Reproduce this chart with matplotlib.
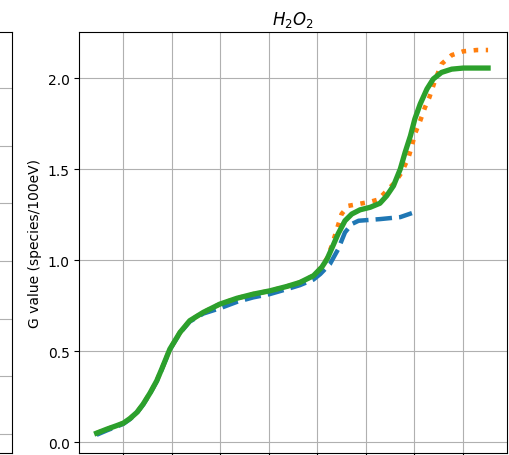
import numpy as np
import matplotlib
matplotlib.use('Agg')
import matplotlib.pyplot as plt

# (x in tick units, y in species/100eV)
x_green = [-0.55, -0.34, -0.14, 0.0, 0.14, 0.28, 0.41, 0.55, 0.69, 0.79, 0.96, 1.17,
           1.37, 1.65, 1.99, 2.34, 2.68, 3.02, 3.37, 3.64, 3.92, 4.09, 4.20, 4.30, 4.43,
           4.57, 4.71, 4.88, 5.09, 5.29, 5.43, 5.57, 5.71, 5.81, 5.92, 6.01, 6.12, 6.26,
           6.39, 6.56, 6.77, 7.01, 7.52]
y_green = [0.049, 0.071, 0.090, 0.104, 0.130, 0.163, 0.209, 0.269, 0.337, 0.400, 0.511,
           0.603, 0.667, 0.713, 0.758, 0.790, 0.813, 0.831, 0.855, 0.877, 0.914, 0.960,
           1.005, 1.065, 1.145, 1.216, 1.253, 1.276, 1.290, 1.312, 1.353, 1.408, 1.500,
           1.592, 1.683, 1.775, 1.857, 1.940, 1.995, 2.031, 2.049, 2.055, 2.055]

x_blue = [-0.55, -0.34, -0.14, 0.0, 0.14, 0.28, 0.41, 0.55, 0.69, 0.79, 0.96, 1.17,
          1.37, 1.65, 1.99, 2.34, 2.68, 3.02, 3.37, 3.64, 3.92, 4.06, 4.26, 4.43, 4.57,
          4.71, 4.85, 5.09, 5.29, 5.71, 5.95]
y_blue = [0.040, 0.064, 0.085, 0.100, 0.126, 0.160, 0.206, 0.266, 0.334, 0.397, 0.508,
          0.600, 0.662, 0.706, 0.735, 0.770, 0.795, 0.813, 0.840, 0.862, 0.893, 0.923,
          0.978, 1.060, 1.152, 1.198, 1.216, 1.221, 1.225, 1.236, 1.258]

x_orange = [-0.55, -0.34, -0.14, 0.0, 0.14, 0.28, 0.41, 0.55, 0.69, 0.79, 0.96, 1.17,
            1.37, 1.65, 1.99, 2.34, 2.68, 3.02, 3.37, 3.64, 3.92, 4.09, 4.20, 4.30,
            4.50, 4.64, 4.85, 5.09, 5.29, 5.33, 5.60, 5.74, 5.88, 5.95, 6.01, 6.12,
            6.22, 6.31, 6.43, 6.56, 6.77, 7.01, 7.29, 7.52]
y_orange = [0.049, 0.071, 0.090, 0.104, 0.130, 0.163, 0.209, 0.269, 0.337, 0.400, 0.511,
            0.603, 0.667, 0.713, 0.758, 0.790, 0.813, 0.831, 0.855, 0.877, 0.914, 0.962,
            1.010, 1.080, 1.253, 1.298, 1.308, 1.320, 1.335, 1.353, 1.427, 1.482, 1.564,
            1.628, 1.692, 1.765, 1.839, 1.894, 1.990, 2.077, 2.126, 2.147, 2.154, 2.154]

x_ticks = [0, 1, 2, 3, 4, 5, 6, 7]
y_ticks = [0.0, 0.5, 1.0, 1.5, 2.0]

fig = plt.figure(figsize=(5.1, 4.56), dpi=100)

# neighbouring panel, only its right edge shows
ax0 = fig.add_axes([-0.4, 0.0044, 0.4245, 0.9232])
ax0.set_ylim(-0.33, 6.97)
ax0.set_yticks(range(7))
ax0.set_xticks([])
ax0.grid(True)

ax = fig.add_axes([0.1555, 0.0044, 0.8386, 0.9232])
ax.plot(x_blue, y_blue, '--', color='C0', lw=3.2)
ax.plot(x_orange, y_orange, ':', color='C1', lw=3.3)
ax.plot(x_green, y_green, '-', color='C2', lw=3.8)
ax.set_xlim(-0.907, 7.91)
ax.set_ylim(-0.06, 2.253)
ax.set_xticks(x_ticks)
ax.set_yticks(y_ticks)
ax.grid(True)
ax.set_title('$H_2O_2$')
ax.set_ylabel('G value (species/100eV)')

fig.savefig('out.png', dpi=100)
